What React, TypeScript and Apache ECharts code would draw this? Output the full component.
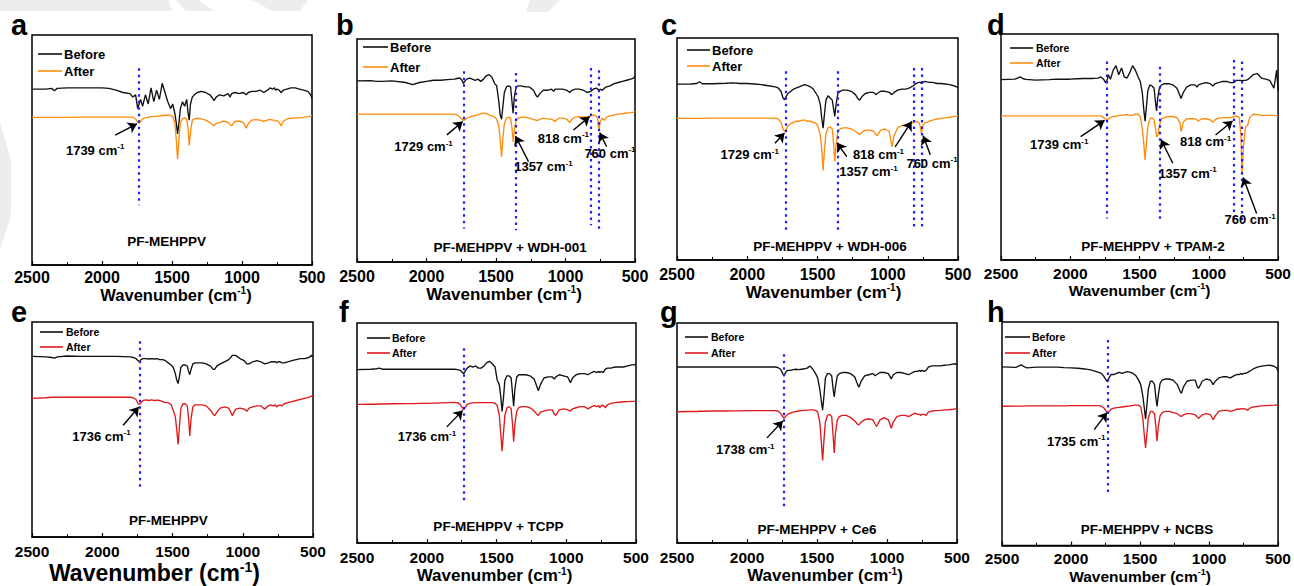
import React, { useEffect, useRef } from "react";
import * as echarts from "echarts";

// ---------------- DATA ----------------
const WAVENUMBERS = [
  2500, 2400, 2360, 2340, 2320, 2250, 2150, 2100, 2050, 2000,
  1950, 1900, 1850, 1800, 1780, 1760, 1745, 1735, 1725, 1710,
  1690, 1670, 1650, 1630, 1610, 1590, 1570, 1550, 1530, 1510,
  1495, 1480, 1470, 1460, 1450, 1440, 1425, 1410, 1395, 1385,
  1377, 1368, 1355, 1340, 1320, 1290, 1260, 1230, 1210, 1200,
  1185, 1160, 1130, 1100, 1085, 1075, 1050, 1020, 990, 970,
  955, 930, 900, 870, 845, 818, 800, 780, 768, 760,
  750, 735, 720, 705, 680, 650, 620, 590, 560, 530,
  510, 500,
];

const A_BEFORE = [
  76.5, 76.5, 76.8, 75.8, 76.8, 77, 77, 77, 77, 77,
  76.8, 76, 75, 74.5, 73, 74, 68, 70, 72, 69,
  74, 70, 77, 71, 76, 72, 79, 75, 71, 68,
  70, 66, 62, 57, 62, 68, 71, 69, 72, 66,
  63, 70, 73, 74, 75, 75.5, 75, 74, 72.5, 71.5,
  73, 74, 73.5, 74.5, 73, 74.5, 75, 74.5, 75, 74,
  75, 75.5, 75.5, 76, 75, 76, 77, 76.5, 77, 76,
  76.5, 76, 75, 76, 76.5, 77, 77, 76.5, 76, 75.5,
  74, 72.5,
];
const A_AFTER = [
  64.2, 64.2, 64.2, 64.2, 64.2, 64.2, 64.3, 64.3, 64.3, 64.3,
  64.3, 64.3, 64.3, 64.3, 64.3, 63.5, 62, 61.7, 62.5, 63.5,
  64, 64.3, 64.5, 64.5, 64.7, 64.8, 65, 65, 65.2, 65,
  64.5, 62, 55, 46, 55, 62, 63.5, 64, 63.5, 59,
  52, 58, 63, 63.5, 63.8, 63.5, 63, 62, 61, 60.5,
  61.5, 62, 62.5, 62, 61, 60.5, 62.5, 62.5, 62, 59.5,
  61.5, 63, 63.2, 63, 62.5, 63, 63.3, 63, 63, 62.5,
  62.8, 62, 60.5, 62.5, 63.5, 63.8, 64, 64, 64.2, 64.5,
  64.7, 65,
];
const B_BEFORE = [
  81.2, 81.3, 81, 81, 81, 81.2, 80.5, 79.5, 80.5, 81,
  81.5, 81.5, 81.8, 82, 82.3, 82.5, 81.5, 80, 81, 82,
  82.5, 82, 81.5, 82, 81, 82, 83.5, 84, 83, 80,
  79, 72, 66, 64, 70, 76, 78.5, 79, 78.5, 72,
  66.7, 74, 78.5, 79, 79, 78.5, 78.5, 77, 74.5, 74,
  75.5, 77, 77, 77.5, 76.5, 77.5, 77.5, 77.5, 77, 76,
  77, 77.5, 77.5, 77, 76, 76.5, 77.5, 78, 77.5, 77,
  77.5, 77, 78, 78.5, 79, 80, 80.5, 81, 81.5, 82,
  82.5, 83.5,
];
const B_AFTER = [
  66.3, 66.3, 66.3, 66.3, 66.3, 66.3, 66.3, 66.3, 66.3, 66.3,
  66.3, 66.3, 66.3, 66.3, 66, 65, 64, 63.5, 63.7, 64.5,
  65, 65.5, 65.7, 66, 66.5, 66.8, 66.5, 66, 65.5, 65,
  64, 61, 55, 47.2, 56, 62, 64.5, 65, 64.5, 60,
  54, 59, 63.5, 64.5, 65, 65, 64.5, 64, 63.5, 63.5,
  64, 64.5, 64.2, 64, 63.5, 63, 64.5, 64.5, 64, 62.5,
  64, 65, 65.2, 65, 65, 65.5, 66, 65.5, 64, 59,
  63, 64.5, 63.5, 65, 65.5, 66, 66.3, 66.5, 66.8, 67,
  67.2, 67.5,
];
const C_BEFORE = [
  79.2, 79.3, 79.5, 80.3, 79.4, 79.4, 79.6, 79.8, 79.5, 79.5,
  79.3, 79, 78.5, 78, 77.5, 76, 73, 72.2, 73.5, 75,
  76, 77, 77.5, 78, 78.5, 79, 78.5, 78, 77, 75,
  73.5, 70, 64, 59.4, 66, 72, 74, 73, 72, 68,
  64.7, 70, 75, 76, 76.5, 76.5, 76, 74.5, 72.5, 72,
  73.5, 75, 75.5, 75.5, 74.5, 75, 76, 76, 75.5, 74.5,
  75.5, 76.5, 77, 77, 77.5, 78.5, 79.5, 80, 80, 79.5,
  80, 80.5, 80.2, 80, 80, 79.5, 79.5, 79.3, 79, 78.5,
  78, 77.5,
];
const C_AFTER = [
  63.8, 63.8, 63.8, 63.8, 63.8, 63.9, 63.9, 63.9, 63.9, 63.9,
  63.9, 63.9, 63.9, 63.9, 63.5, 62, 59, 58, 58.5, 60.5,
  61.5, 62, 62.5, 62.5, 63, 63, 62.5, 62.5, 62, 61.5,
  60, 56, 50, 40.3, 50, 57, 59.5, 60, 59, 52,
  44.4, 52, 58, 59, 59.5, 59.5, 59, 58, 57, 56.5,
  57.5, 58.5, 58.5, 58, 56.5, 56, 58.5, 59, 58, 51,
  56, 59.5, 60.5, 61, 61, 62, 62.5, 62, 60, 57,
  60.5, 62, 62, 62.5, 63, 63.5, 63.8, 64, 64.3, 64.6,
  64.8, 65,
];
const D_BEFORE = [
  79.8, 80, 81, 80.2, 79.9, 79.6, 79.8, 80, 80, 80,
  80.2, 80.3, 80.3, 80.5, 81, 80, 78.5, 79.5, 82, 80,
  84, 86, 82, 85, 81, 80.5, 83, 86, 84, 81,
  79, 74, 67, 61.4, 68, 75, 77.5, 77, 76, 70,
  66, 72, 76.5, 77.5, 78, 78, 77.5, 76, 73, 71.5,
  74, 76.5, 77.5, 77.5, 76.5, 77.5, 78, 78.5, 78, 77,
  78, 78.5, 79, 79, 78.5, 78.5, 79.5, 79.5, 79.5, 79.3,
  79.5, 79.5, 79.8, 80.5, 82, 82.5, 80.5, 80, 79.5, 76,
  84, 75,
];
const D_AFTER = [
  63.8, 63.8, 63.8, 63.8, 63.8, 63.8, 63.8, 63.8, 63.8, 63.8,
  63.8, 63.8, 63.8, 63.8, 63.8, 63, 62.4, 62, 62.3, 63,
  63.5, 63.5, 64, 64, 64.2, 64.3, 64, 64, 64.5, 64.5,
  63.5, 58, 52, 44.2, 52, 59, 62.5, 63, 62, 58,
  54.6, 55, 60, 62.5, 63, 63.5, 63.5, 63, 61, 56.8,
  61, 62.5, 62.5, 62.5, 62, 61.5, 62.5, 62.5, 62, 61,
  62, 62.8, 63, 63, 63, 63.5, 63.8, 63, 55, 37.6,
  50, 59, 59.5, 63, 64.5, 64.3, 64, 64, 64, 64,
  63.8, 63.5,
];
const E_BEFORE = [
  84, 83.8, 83.5, 83.2, 83.8, 84.2, 84, 84, 84, 84,
  84, 84, 83.9, 83.8, 83.5, 83, 82, 81.5, 82.5, 83,
  83, 82.8, 83, 82.8, 83, 82.5, 82.5, 82, 81, 80,
  79, 76, 73, 71.4, 75, 79, 80, 80, 79.5, 77,
  75.5, 78, 80.5, 81, 81, 81, 80.5, 79.5, 78, 78,
  79.5, 80.5, 81.5, 82.5, 83.5, 84.5, 84.5, 83, 82, 80.5,
  80.5, 81.5, 82, 81.5, 80.5, 81, 81.5, 81.5, 81.5, 81,
  81.5, 81.5, 81, 81, 81.5, 82, 82.5, 83, 83, 83.5,
  84.5, 84,
];
const E_AFTER = [
  64.5, 64.8, 65, 65, 65, 65, 65, 65, 65, 65,
  65, 65, 65, 65, 64.8, 64, 62, 61.7, 62.5, 63.5,
  63.8, 63.5, 63.8, 63.5, 63.7, 63.5, 63, 62.5, 62.5, 61.5,
  59, 56, 50, 43.1, 52, 60, 62, 62, 61, 55,
  47, 55, 60.5, 61.5, 61.5, 61.5, 61, 59, 57, 56.5,
  58, 60, 60.5, 60, 58, 56.5, 59.5, 60, 59.5, 58.5,
  60, 60.5, 61, 61, 59.5, 61, 61.5, 61, 61.5, 60.5,
  61, 61.5, 61, 62, 62.5, 63, 63.5, 64, 64.5, 65,
  65.5, 66,
];
const F_BEFORE = [
  78.8, 79, 79.2, 79.5, 79, 79, 79, 79, 79, 79,
  79, 79, 79, 79, 78.8, 78.5, 77.5, 77, 78, 79.5,
  80.5, 80, 80.5, 79.5, 79.5, 80.5, 82, 82.6, 81.5, 80,
  74, 72, 67, 59.8, 66, 74, 76, 76, 75, 68,
  62.2, 70, 75.5, 76.5, 76.5, 76.5, 76, 74.5, 71, 69.2,
  72, 75, 75.5, 75.5, 74.5, 75.5, 76.5, 76, 75.5, 72.9,
  75, 76.5, 77, 77, 76.5, 77.5, 78, 77.5, 78, 77.5,
  78, 77.5, 79, 79.5, 79.5, 80, 80, 80, 80.5, 81,
  81, 81.5,
];
const F_AFTER = [
  63, 63.1, 63.1, 63.2, 63.2, 63.3, 63.4, 63.4, 63.5, 63.5,
  63.6, 63.7, 63.8, 63.9, 63.8, 63, 61.5, 60.7, 61.5, 63,
  63.5, 63.7, 63.8, 63.8, 63.8, 63.8, 63.8, 63.8, 63.8, 63.5,
  62.5, 58, 50, 41.7, 50, 58, 61.5, 62, 61, 54,
  46.1, 54, 60, 61.5, 62, 62, 61.5, 60, 58.5, 58,
  59.5, 60, 60.5, 60.5, 58.5, 58, 60.5, 61, 60.5, 60,
  61, 61.5, 62, 62, 61, 62, 62.5, 62, 62.5, 61.5,
  62.5, 62.5, 61.5, 62.8, 63.5, 63.8, 64, 64.2, 64.3, 64.4,
  64.4, 64.4,
];
const G_BEFORE = [
  80, 80, 80, 80, 80, 80, 80, 80, 80, 80,
  80, 80, 80, 80, 79.8, 79, 77, 76, 77.5, 78.5,
  78.5, 78.8, 79, 78.8, 79, 79.2, 79.5, 80.5, 79, 77,
  75, 70, 65, 60.4, 67, 75, 77, 77, 76, 70,
  66.4, 71, 76, 77, 77.5, 77.5, 77, 75.5, 72, 70.9,
  73.5, 76, 76.5, 77, 76, 76.5, 77.5, 77.5, 77, 74.6,
  76.5, 77.5, 77.5, 77, 76.5, 77.5, 78, 78, 78.5, 78,
  78.5, 78, 78.5, 80, 80.5, 80.5, 80.5, 80.8, 81, 81.3,
  81.5, 81,
];
const G_AFTER = [
  59.7, 59.8, 59.8, 59.9, 59.9, 60, 60, 60.1, 60.1, 60.2,
  60.2, 60.2, 60.2, 60.2, 60, 59, 57.5, 56.7, 57.5, 58.5,
  59, 59.5, 59.8, 60, 60.2, 60.3, 60.4, 60.5, 60.5, 60.3,
  59.5, 55, 47, 37.6, 47, 55, 58, 58.5, 57.5, 49,
  41, 50, 56, 57.5, 58, 58, 57, 55.5, 54, 53.7,
  55, 56, 56.5, 56, 54, 53, 56, 57, 56, 52.2,
  55, 57.5, 58, 58, 57.5, 58.5, 59, 58.5, 58.5, 58,
  58.5, 58.5, 58, 59.5, 60, 60.2, 60.3, 60.5, 60.6, 60.8,
  61, 61,
];
const H_BEFORE = [
  79.9, 79.7, 80.8, 80, 79.5, 79.8, 79.8, 79.8, 79.6, 79.5,
  79.3, 79, 78.5, 77.5, 77, 75.5, 74, 73.3, 75, 76.5,
  76.5, 77, 77.5, 77, 77.5, 77.8, 77.5, 77, 76, 74,
  72, 67, 62, 56.6, 63, 70, 73.5, 73.5, 72, 66,
  62.2, 67, 72.5, 74, 74.5, 74.5, 74, 72, 69, 68.1,
  71, 73.5, 74, 74, 71, 70.4, 73.5, 74.5, 74, 72,
  73.5, 75, 75.5, 75.5, 75, 76, 76.5, 76.5, 77, 76.5,
  77, 77, 77.5, 78, 79, 79.8, 80.3, 80.5, 80.7, 80.2,
  79.5, 78,
];
const H_AFTER = [
  62.3, 62.4, 62.4, 62.4, 62.5, 62.5, 62.5, 62.5, 62.5, 62.6,
  62.6, 62.6, 62.6, 62.6, 62.3, 61.5, 60, 59.5, 60, 61,
  61.5, 61.7, 61.8, 62, 62.2, 62.3, 62.5, 62.7, 62.8, 62.8,
  62, 57, 50, 43.7, 50, 57, 60, 60, 59, 53,
  46.7, 53, 58, 59.5, 60, 60, 59.5, 59, 58, 57.8,
  58.5, 59, 59, 58.5, 57.5, 57, 58.5, 59, 58.5, 56.3,
  58, 60, 60.5, 60.5, 60, 60.5, 61, 61, 61.3, 61,
  61.3, 61, 60.5, 61.5, 62, 62.3, 62.5, 62.6, 62.7, 62.8,
  62.9, 63,
];

const BEFORE = [A_BEFORE, B_BEFORE, C_BEFORE, D_BEFORE, E_BEFORE, F_BEFORE, G_BEFORE, H_BEFORE];
const AFTER = [A_AFTER, B_AFTER, C_AFTER, D_AFTER, E_AFTER, F_AFTER, G_AFTER, H_AFTER];

const PEAKS = [
  [1739],
  [1729, 1357, 818, 760],
  [1729, 1357, 818, 760],
  [1739, 1357, 818, 760],
  [1736],
  [1736],
  [1738],
  [1735],
];
const SAMPLES = [
  "PF-MEHPPV",
  "PF-MEHPPV + WDH-001",
  "PF-MEHPPV + WDH-006",
  "PF-MEHPPV + TPAM-2",
  "PF-MEHPPV",
  "PF-MEHPPV + TCPP",
  "PF-MEHPPV + Ce6",
  "PF-MEHPPV + NCBS",
];
const LETTERS = ["a", "b", "c", "d", "e", "f", "g", "h"];
const SERIES_NAMES = ["Before", "After"];
const X_MIN = 500;
const X_MAX = 2500;
const X_STEP = 500;

// ---------------- LAYOUT / STYLE ----------------
const FONT = 'Arial, "Liberation Sans", Helvetica, sans-serif';
const BLACK = "#111111";
const ORANGE = "#FF8C0D";
const RED = "#E0191C";
const BLUE = "#2020FF";
const WATERMARK = "#ededed";
const LINE_W = 1.35;

type XY = [number, number];
const LAYOUT: any[] = [
  {
    grid: { left: 32, top: 35, width: 280, height: 230 }, letter: [11, 25],
    legend: { x1: 38, x2: 62, tx: 64, y1: 54, y2: 71, font: 13 },
    tickFont: 16, margin: 4, nameFont: 16.5, nameGap: 18, nameShift: 4, after: ORANGE,
    dotted: [[85.5, 26]],
    labelAt: [[2049, 50]],
    arrows: [[[1906, 56.5], [1750, 61.4]]],
    sampleAt: [1538, 10.1],
  },
  {
    grid: { left: 357, top: 39, width: 278, height: 223 }, letter: [336, 25],
    legend: { x1: 363, x2: 388, tx: 390, y1: 47, y2: 67, font: 13 },
    tickFont: 16, margin: 6, nameFont: 17, nameGap: 21, nameShift: 8, after: ORANGE,
    dotted: [[85.5, 15], [84.7, 14.2], [87, 16.5], [86, 14.2]],
    labelAt: [[2021, 51.7], [1159, 42.7], [1015, 55.5], [680, 48.7]],
    arrows: [
      [[1853, 57], [1740, 63]],
      [[1266, 45], [1360, 56.5]],
      [[943, 59.2], [826, 65.2]],
      [[704, 51.7], [754, 58]],
    ],
    sampleAt: [1398, 6.7],
  },
  {
    grid: { left: 677, top: 38, width: 281, height: 222 }, letter: [661, 25],
    legend: { x1: 687, x2: 710, tx: 712, y1: 50, y2: 66, font: 13 },
    tickFont: 16, margin: 6, nameFont: 17, nameGap: 22, nameShift: 6, after: ORANGE,
    dotted: [[85, 13.5], [85, 13.5], [86.5, 15], [86.5, 15]],
    labelAt: [[1982, 47.4], [1137, 39.8], [1066, 47.4], [685, 43.6]],
    arrows: [
      [[1803, 52.6], [1735, 57.2]],
      [[1292, 46.6], [1361, 52.8]],
      [[947, 51], [830, 62.4]],
      [[697, 47.4], [748, 56]],
    ],
    sampleAt: [1411, 6],
  },
  {
    grid: { left: 1001, top: 34, width: 281, height: 226 }, letter: [987, 25],
    legend: { x1: 1010, x2: 1033, tx: 1036, y1: 48, y2: 63, font: 10.5 },
    tickFont: 15.5, margin: 5, nameFont: 15.5, nameGap: 20, nameShift: 0, after: ORANGE,
    dotted: [[87.8, 18.4], [85.5, 17], [88.5, 17.7], [87.8, 17]],
    labelAt: [[2080, 50.9], [1153, 38.3], [1023, 52.4], [702, 17.7]],
    arrows: [
      [[1925, 54.6], [1752, 61.8]],
      [[1260, 42.8], [1345, 53.3]],
      [[951, 55.3], [828, 61.5]],
      [[655, 20.6], [752, 36.5]],
    ],
    sampleAt: [1403, 5.9],
  },
  {
    grid: { left: 32, top: 322, width: 281, height: 226 }, letter: [11, 312],
    legend: { x1: 40, x2: 63, tx: 66, y1: 332, y2: 347, font: 10.5 },
    tickFont: 15.5, margin: 6, nameFont: 23, nameGap: 21, nameShift: -18, after: RED,
    dotted: [[91, 21.8]],
    labelAt: [[2005, 46.9]],
    arrows: [[[1851, 52], [1740, 60.5]]],
    sampleAt: [1530, 7.8],
  },
  {
    grid: { left: 357, top: 323, width: 279, height: 224 }, letter: [339, 312],
    legend: { x1: 367, x2: 390, tx: 392, y1: 338, y2: 353, font: 10.5 },
    tickFont: 15.5, margin: 6, nameFont: 17, nameGap: 21, nameShift: -2, after: RED,
    dotted: [[88.5, 18.6]],
    labelAt: [[1999, 48.4]],
    arrows: [[[1856, 52.8], [1742, 60.3]]],
    sampleAt: [1486, 7.4],
  },
  {
    grid: { left: 677, top: 323, width: 280, height: 224 }, letter: [660, 312],
    legend: { x1: 685, x2: 708, tx: 711, y1: 337, y2: 353, font: 10.5 },
    tickFont: 15.5, margin: 6, nameFont: 17, nameGap: 18, nameShift: 8, after: RED,
    dotted: [[85.8, 15.7]],
    labelAt: [[2012, 42.5]],
    arrows: [[[1857, 47.8], [1744, 55.5]]],
    sampleAt: [1500, 6],
  },
  {
    grid: { left: 1002, top: 322, width: 279, height: 225 }, letter: [987, 312],
    legend: { x1: 1005, x2: 1030, tx: 1032, y1: 337, y2: 353, font: 10.5 },
    tickFont: 15.5, margin: 5, nameFont: 15.5, nameGap: 20, nameShift: 0, after: RED,
    dotted: [[91.9, 22.2]],
    labelAt: [[1963, 46.7]],
    arrows: [[[1832, 51.9], [1739, 59.5]]],
    sampleAt: [1450, 7.1],
  },
];

// faint background watermark shapes (pixel polygons)
const WATERMARK_SHAPES: number[][][] = [
  [[0, 0], [168, 0], [172, 11], [0, 11]],
  [[176, 0], [198, 0], [214, 11], [186, 11]],
  [[252, 0], [308, 0], [300, 11], [272, 11]],
  [[530, 0], [560, 0], [548, 12], [526, 12]],
  [[0, 122], [11, 160], [11, 215], [0, 250]],
];

function staticGraphics(): any[] {
  const graphics: any[] = [];
  WATERMARK_SHAPES.forEach((pts) => {
    graphics.push({
      type: "polygon",
      shape: { points: pts },
      style: { fill: WATERMARK },
      silent: true,
      z: -10,
    });
  });
  LAYOUT.forEach((p, i) => {
    const lg = p.legend;
    [lg.y1, lg.y2].forEach((yy: number, j: number) => {
      graphics.push({
        type: "line",
        shape: { x1: lg.x1, y1: yy, x2: lg.x2, y2: yy },
        style: { stroke: j === 0 ? BLACK : p.after, lineWidth: 1.6 },
        silent: true,
      });
      graphics.push({
        type: "text",
        x: lg.tx,
        y: yy,
        style: {
          text: SERIES_NAMES[j],
          font: `bold ${lg.font}px ${FONT}`,
          fill: "#000",
          verticalAlign: "middle",
          align: "left",
        },
        silent: true,
      });
    });
    graphics.push({
      type: "text",
      x: p.letter[0],
      y: p.letter[1],
      style: {
        text: LETTERS[i],
        font: `bold 29px ${FONT}`,
        fill: "#000",
        verticalAlign: "middle",
        align: "left",
      },
      silent: true,
    });
  });
  return graphics;
}

function annotationText(x: number, y: number, text: string, size: number) {
  return {
    type: "text",
    x,
    y,
    z: 10,
    silent: true,
    style: {
      text,
      fontFamily: FONT,
      fontSize: size,
      fontWeight: "bold",
      fill: "#000",
      align: "center",
      verticalAlign: "middle",
      lineHeight: size + 2,
      rich: {
        sup: {
          fontFamily: FONT,
          fontSize: 8,
          fontWeight: "bold",
          fill: "#000",
          verticalAlign: "top",
          lineHeight: 8,
        },
      },
    },
  };
}

function buildOption() {
  const grids: any[] = [];
  const xAxes: any[] = [];
  const yAxes: any[] = [];
  const series: any[] = [];

  LAYOUT.forEach((p, i) => {
    grids.push({
      ...p.grid,
      show: true,
      borderColor: "#000",
      borderWidth: 1.5,
      backgroundColor: "transparent",
      containLabel: false,
    });
    const shift = p.nameShift || 0;
    xAxes.push({
      type: "value",
      gridIndex: i,
      min: X_MIN,
      max: X_MAX,
      interval: X_STEP,
      inverse: true,
      name: "Wavenumber (cm{sup|-1})",
      nameLocation: "middle",
      nameGap: p.nameGap,
      nameTextStyle: {
        fontFamily: FONT,
        fontSize: p.nameFont,
        fontWeight: "bold",
        color: "#000",
        lineHeight: p.nameFont + 2,
        padding: shift >= 0 ? [0, 0, 0, shift * 2] : [0, -shift * 2, 0, 0],
        rich: {
          sup: {
            fontFamily: FONT,
            fontSize: Math.round(p.nameFont * 0.6),
            fontWeight: "bold",
            color: "#000",
            verticalAlign: "top",
            lineHeight: Math.round(p.nameFont * 0.6),
          },
        },
      },
      axisLine: { show: true, onZero: false, lineStyle: { color: "#000", width: 1.5 } },
      axisTick: { show: true, inside: true, length: 4, lineStyle: { color: "#000", width: 1.2 } },
      minorTick: { show: true, splitNumber: 2, length: 3, lineStyle: { color: "#000", width: 1 } },
      splitLine: { show: false },
      minorSplitLine: { show: false },
      axisLabel: {
        fontFamily: FONT,
        fontSize: p.tickFont,
        fontWeight: "bold",
        color: "#000",
        margin: p.margin,
        formatter: (v: number) => String(v),
      },
    });
    yAxes.push({
      type: "value",
      gridIndex: i,
      min: 0,
      max: 100,
      show: false,
    });

    const peaks = PEAKS[i];
    series.push({
      type: "line",
      name: SERIES_NAMES[0],
      xAxisIndex: i,
      yAxisIndex: i,
      data: WAVENUMBERS.map((w, k) => [w, BEFORE[i][k]]),
      symbol: "none",
      showSymbol: false,
      lineStyle: { color: BLACK, width: LINE_W },
      itemStyle: { color: BLACK },
      z: 3,
      markLine: {
        silent: true,
        symbol: ["none", "none"],
        label: { show: false },
        lineStyle: { color: BLUE, type: [2.5, 4], width: 2.2 },
        data: peaks.map((pk, j) => [
          { coord: [pk, p.dotted[j][0]] },
          { coord: [pk, p.dotted[j][1]] },
        ]),
      },
    });
    series.push({
      type: "line",
      name: SERIES_NAMES[1],
      xAxisIndex: i,
      yAxisIndex: i,
      data: WAVENUMBERS.map((w, k) => [w, AFTER[i][k]]),
      symbol: "none",
      showSymbol: false,
      lineStyle: { color: p.after, width: LINE_W },
      itemStyle: { color: p.after },
      z: 3,
      markLine: {
        silent: true,
        symbol: ["none", "arrow"],
        symbolSize: 9,
        label: { show: false },
        itemStyle: { color: "#000" },
        lineStyle: { color: "#000", type: "solid", width: 1.4 },
        data: p.arrows.map((a: XY[]) => [{ coord: a[0] }, { coord: a[1] }]),
      },
    });
  });

  return {
    animation: false,
    backgroundColor: "#ffffff",
    textStyle: { fontFamily: FONT },
    grid: grids,
    xAxis: xAxes,
    yAxis: yAxes,
    series,
  };
}

export default function App() {
  const ref = useRef<HTMLDivElement>(null);
  useEffect(() => {
    if (!ref.current) return;
    const chart = echarts.init(ref.current, undefined, { renderer: "svg" });
    chart.setOption(buildOption() as any);
    // peak labels and sample names placed in data coordinates via the chart's own scales
    const texts: any[] = [];
    LAYOUT.forEach((p, i) => {
      PEAKS[i].forEach((pk, j) => {
        const pt = chart.convertToPixel({ gridIndex: i } as any, p.labelAt[j]) as number[];
        texts.push(annotationText(pt[0], pt[1], `${pk} cm{sup|-1}`, 13));
      });
      const sp = chart.convertToPixel({ gridIndex: i } as any, p.sampleAt) as number[];
      texts.push(annotationText(sp[0], sp[1], SAMPLES[i], 13.5));
    });
    chart.setOption({ graphic: { elements: [...staticGraphics(), ...texts] } } as any);
    return () => chart.dispose();
  }, []);
  return (
    <div
      ref={ref}
      style={{ position: "fixed", left: 0, top: 0, width: 1294, height: 586, background: "#fff" }}
    />
  );
}
